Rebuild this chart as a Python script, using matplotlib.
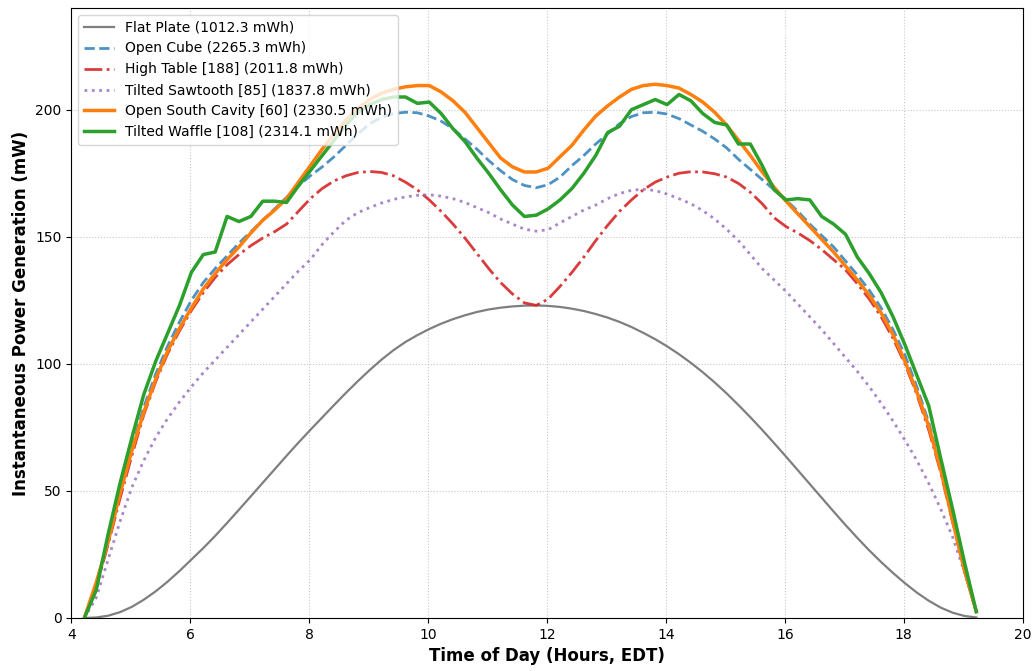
import numpy as np
import matplotlib
matplotlib.use("Agg")
import matplotlib.pyplot as plt

# sample times (hours, EDT), 12-minute steps from sunrise to sunset
hours = np.round(4.22 + 0.2 * np.arange(76), 2)

flat_plate = [0, 0.2, 0.9, 2.3, 4.4, 7.2, 10.5, 14.3, 18.5, 23,
              27.5, 32.3, 37.4, 42.6, 47.9, 53.2, 58.5, 63.8, 69, 74,
              78.9, 83.8, 88.6, 93.2, 97.6, 101.7, 105.4, 108.6, 111.3, 113.7,
              115.8, 117.6, 119.1, 120.4, 121.4, 122.1, 122.6, 122.9, 123, 122.8,
              122.4, 121.7, 120.8, 119.6, 118.2, 116.5, 114.5, 112.2, 109.7, 106.9,
              103.8, 100.4, 96.7, 92.7, 88.4, 83.8, 79, 74, 68.8, 63.5,
              58.1, 52.7, 47.3, 41.9, 36.6, 31.5, 26.6, 22, 17.7, 13.7,
              10, 6.8, 4.1, 2.1, 0.8, 0.2]

open_cube = [0, 13, 30, 49, 67, 83, 96, 107, 116.5, 125,
             132, 137.5, 142.5, 147.5, 152, 156.5, 161, 165.5, 170, 174,
             177.5, 181.5, 186, 190.5, 194.5, 197, 198.5, 199, 198.8, 197.5,
             195.5, 192.5, 188.5, 184.5, 180, 176, 172.5, 170.2, 169.3, 170.5,
             173.5, 178, 182, 186.5, 190.5, 194.5, 197.3, 198.8, 199, 198.3,
             196.5, 194, 191.5, 188.5, 185, 180.5, 176.5, 172.5, 168.5, 164.5,
             160, 155, 150.5, 146, 140.5, 135, 129, 122, 113.5, 103.5,
             91, 77, 59.5, 39, 19, 2.5]

high_table = [0, 12, 29, 47, 64, 80, 93, 104, 113, 121,
              128, 134, 139, 143, 146.5, 149.5, 152, 155, 160, 165,
              169, 172, 174, 175.3, 175.7, 175.3, 174, 171.5, 168.5, 164.5,
              160, 155, 149.5, 143.5, 137.5, 132, 127.5, 124, 123, 125.5,
              130.5, 136, 142, 148.5, 154.5, 160, 164.5, 168.5, 171.5, 173.5,
              175, 175.6, 175.5, 174.8, 173.5, 171, 167.5, 163, 157.5, 154,
              151.5, 148.5, 145, 141, 137, 131.5, 125.5, 118.5, 110, 100,
              88, 74, 57.5, 38, 18.5, 2.5]

tilted_sawtooth = [0, 8, 23, 38, 51.5, 62, 71, 78.5, 85, 91,
                   96.5, 101.5, 106.5, 111.5, 116.5, 121.5, 126.5, 131.5, 136.5, 141,
                   147, 152, 156.5, 159.5, 161.5, 163.3, 164.7, 165.7, 166.3, 166.5,
                   166, 165, 163.5, 161.5, 159.5, 157, 155, 153, 152.2, 152.8,
                   155.5, 158, 160.5, 162.5, 165, 167, 168.3, 168.7, 168.2, 166.8,
                   165, 163, 160.3, 157, 153, 148.5, 143, 137.5, 133, 128.5,
                   123.5, 118.5, 113.5, 108, 102.5, 97, 91, 84.5, 77.5, 70,
                   62, 53, 43, 32, 18, 2.5]

open_south_cavity = [0, 14, 30, 49, 66, 81, 94, 105, 114, 122,
                     129.5, 135.5, 141, 146, 151.5, 156.5, 160.5, 165, 171.5, 178,
                     184.5, 190.5, 196, 200.5, 204, 206.5, 208, 209, 209.5, 209.5,
                     207, 203.5, 199, 193, 187, 181, 177.5, 175.5, 175.5, 177,
                     181.5, 186, 192, 197.5, 201.5, 205, 208, 209.5, 210, 209.5,
                     208.5, 206, 203, 199, 194, 188, 182, 175.5, 169.5, 164,
                     159, 154, 149, 144, 138.5, 133, 127, 120, 111.5, 101,
                     89, 75.5, 58.5, 38.5, 19, 2.5]

tilted_waffle = [0, 11, 33, 53, 71, 88, 101, 112, 123, 136,
                 143, 144, 158, 156, 158, 164, 164, 163.5, 170, 176,
                 182, 188, 194, 199, 202, 204, 205, 205, 202.5, 203,
                 198.5, 192.5, 187.5, 181, 175, 168.5, 162.5, 158, 158.5, 161,
                 164.5, 169, 175, 182, 191, 193.5, 200, 202, 204, 202,
                 206, 203.5, 198.5, 195, 194, 186.5, 186.5, 178, 168.5, 164.5,
                 165, 164.5, 158, 155, 151, 142, 135.5, 128, 118.5, 107.5,
                 95.5, 83.5, 63, 43, 22, 2.5]

labels = [
    "Flat Plate (1012.3 mWh)",
    "Open Cube (2265.3 mWh)",
    "High Table [188] (2011.8 mWh)",
    "Tilted Sawtooth [85] (1837.8 mWh)",
    "Open South Cavity [60] (2330.5 mWh)",
    "Tilted Waffle [108] (2314.1 mWh)",
]

fig, ax = plt.subplots(figsize=(10.33, 6.71), dpi=100)
fig.subplots_adjust(left=0.069, right=0.990, top=0.988, bottom=0.079)

ax.plot(hours, flat_plate, color="tab:gray", lw=1.6, label=labels[0])
ax.plot(hours, open_cube, color="tab:blue", ls="--", lw=2, alpha=0.8, label=labels[1])
ax.plot(hours, high_table, color="tab:red", ls="-.", lw=2, alpha=0.9, label=labels[2])
ax.plot(hours, tilted_sawtooth, color="tab:purple", ls=":", lw=2, alpha=0.8, label=labels[3])
ax.plot(hours, open_south_cavity, color="tab:orange", lw=2.5, label=labels[4])
ax.plot(hours, tilted_waffle, color="tab:green", lw=2.5, label=labels[5])

ax.set_xlim(4, 20)
ax.set_ylim(0, 240)
ax.set_xticks(range(4, 21, 2))
ax.set_yticks(range(0, 201, 50))
ax.tick_params(labelsize=10)
ax.grid(True, ls=":", color="#bbbbbb", alpha=0.8)

ax.set_xlabel("Time of Day (Hours, EDT)", fontsize=12, fontweight="bold")
ax.set_ylabel("Instantaneous Power Generation (mW)", fontsize=12, fontweight="bold")
ax.legend(loc="upper left", fontsize=10, handlelength=2.2)

fig.savefig("out.png", dpi=100)
